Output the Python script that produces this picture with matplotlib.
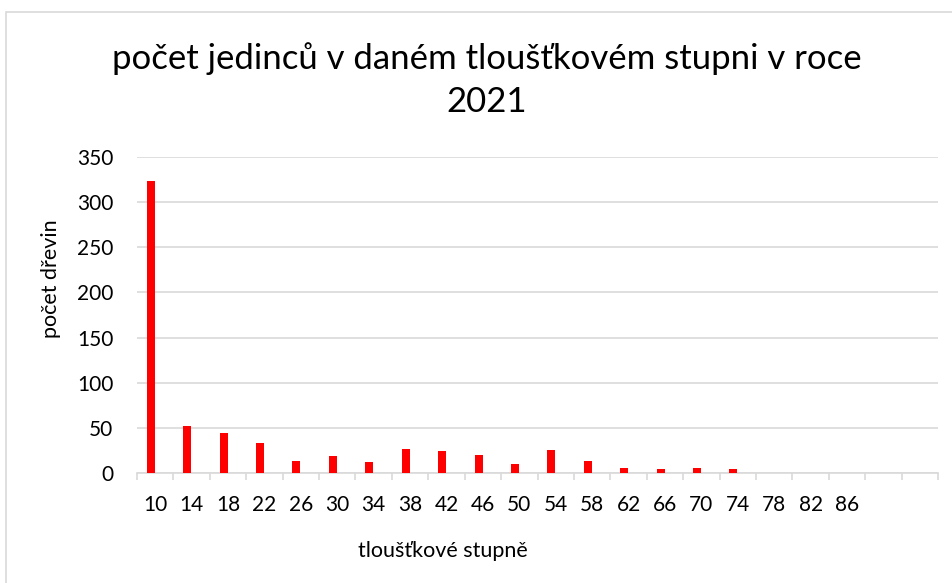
import numpy as np
import matplotlib
matplotlib.use("Agg")
import matplotlib.pyplot as plt
from matplotlib.patches import Rectangle

plt.rcParams['font.family'] = ['Lato', 'DejaVu Sans']

# thickness classes (two trailing empty slots as in the source chart)
categories = ['10', '14', '18', '22', '26', '30', '34', '38', '42', '46', '50',
              '54', '58', '62', '66', '70', '74', '78', '82', '86', '', '']
counts = [323, 52, 44, 33, 13, 19, 12, 27, 24, 20, 10,
          26, 13, 5, 4, 6, 4, 0, 0.4, 0, 0, 0]
yticks = [0, 50, 100, 150, 200, 250, 300, 350]

title_lines = ["počet jedinců v daném tloušťkovém stupni v roce", "2021"]
xlabel = "tloušťkové stupně"
ylabel = "počet dřevin"

grid_col = '#d9d9d9'

fig = plt.figure(figsize=(9.53, 5.83), dpi=100)
ax = fig.add_axes([137/953, 1 - 473/583, (938-137)/953, (473-157)/583])

x = np.arange(len(categories))
ax.bar(x - 0.12, counts, width=0.22, color='#ff0000', zorder=3)

ax.set_xlim(-0.5, len(categories) - 0.5)
ax.set_ylim(0, 350)
ax.set_yticks(yticks)
ax.set_yticklabels([str(v) for v in yticks], fontsize=15)
ax.yaxis.grid(True, color=grid_col, linewidth=1.2)
ax.set_axisbelow(True)
ax.tick_params(axis='y', length=0, pad=17)

ax.set_xticks(x)
ax.set_xticklabels(categories, fontsize=15)
ax.set_xticks(np.arange(len(categories) + 1) - 0.5, minor=True)
ax.tick_params(axis='x', which='major', length=0, pad=16)
ax.tick_params(axis='x', which='minor', length=5, color=grid_col, width=1.2)

for s in ['left', 'right', 'top']:
    ax.spines[s].set_visible(False)
ax.spines['bottom'].set_color(grid_col)
ax.spines['bottom'].set_linewidth(1.2)

# two-line title, placed line by line
fig.text(487/953, 1 - 69/583, title_lines[0], ha='center', va='baseline', fontsize=25)
fig.text(487/953, 1 - 112/583, title_lines[1], ha='center', va='baseline', fontsize=25)
fig.text(443/953, 1 - 551/583, xlabel, ha='center', va='center', fontsize=15.5)
fig.text(51/953, 1 - 279/583, ylabel, ha='center', va='center', fontsize=15.5,
         rotation=90)

# chart area border
fig.patches.append(Rectangle((6/953, -0.1), 1.1, 1 - 12/583 + 0.1,
                             transform=fig.transFigure, fill=False,
                             edgecolor=grid_col, linewidth=1.2))

fig.savefig("out.png", dpi=100)
